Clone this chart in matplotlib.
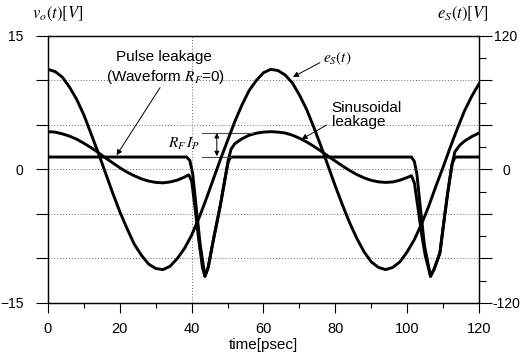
import matplotlib
matplotlib.use('Agg')
import matplotlib.pyplot as plt
import numpy as np

plt.rcParams['font.family'] = ['Liberation Sans', 'DejaVu Sans']
plt.rcParams['mathtext.fontset'] = 'stix'

# source voltage e_s(t) [V], right axis
t_es = np.arange(0, 121, 2)
es = [90, 88, 83, 74, 63, 49, 32, 15, -3, -21, -38, -53, -67, -77, -85, -89,
      -90, -87, -80, -71, -59, -44, -27, -9, 9, 26, 43, 58, 71, 80, 87, 90,
      89, 85, 78, 67, 54, 38, 21, 3, -15, -32, -48, -62, -74, -83, -88, -90,
      -88, -83, -74, -63, -49, -33, -15, 2, 20, 37, 53, 66, 77]

# output v_o(t) [V] with sinusoidal leakage
t_sin = [0, 2, 4, 6, 8, 10, 12, 14, 16, 18, 20, 22, 24, 26, 28, 30, 32, 34, 36,
         38, 39.2, 40.0, 41.0, 42.0, 43.0, 43.7, 44.6, 46.0, 48.0, 49.3, 50.2,
         51, 52, 54, 56, 58, 60, 62, 64, 66, 68, 70, 72, 74, 76, 78, 80, 82,
         84, 86, 88, 90, 92, 94, 96, 98, 100, 101.2, 102, 103, 104, 105,
         106.5, 107.5, 109.1, 110.5, 111.4, 112.5, 113.3, 114.7, 116, 118, 120]
v_sin = [4.25, 4.2, 4.0, 3.75, 3.4, 2.95, 2.45, 1.9, 1.3, 0.75, 0.2, -0.3,
         -0.7, -1.05, -1.3, -1.45, -1.5, -1.4, -1.2, -0.85, -0.6, -1.3, -4.5,
         -8.0, -11.0, -12.0, -11.0, -8.0, -4.0, -1.0, 1.1, 2.3, 2.9, 3.45,
         3.85, 4.08, 4.2, 4.25, 4.2, 4.1, 3.86, 3.52, 3.1, 2.6, 2.07, 1.5,
         0.94, 0.4, -0.12, -0.57, -0.94, -1.22, -1.39, -1.45, -1.4, -1.2,
         -0.9, -0.7, -1.5, -4.3, -7.2, -9.6, -12.0, -11.2, -9.4, -5.0, -2.3,
         0.6, 2.0, 2.75, 3.2, 3.7, 4.1]

# output v_o(t) [V] with pulse leakage only (R_F = 0)
t_pul = [0, 38.6, 39.5, 40.3, 41.2, 42.4, 43.7, 44.6, 46.0, 48.0, 49.3, 50.2,
         50.8, 51.5, 101.2, 102.0, 102.7, 103.6, 104.8, 106.5, 107.5, 109.1,
         110.5, 111.4, 112.5, 113.2, 113.8, 120]
v_pul = [1.4, 1.4, 1.0, -0.5, -4.0, -8.5, -12.0, -11.0, -8.0, -4.0, -1.0, 0.9,
         1.35, 1.4, 1.4, 0.9, -0.5, -4.0, -8.5, -12.0, -11.2, -9.4, -5.0,
         -2.3, 0.6, 1.3, 1.4, 1.4]

fig = plt.figure(figsize=(5.25, 3.61), dpi=100)
ax = fig.add_axes([0.0914, 0.1607, 0.821, 0.7396])
ax2 = ax.twinx()

grid_kw = dict(color='0.4', lw=0.7, ls=(0, (1, 2)), zorder=0)
for yv in [10, 5, 0, -5, -10]:
    ax.axhline(yv, **grid_kw)
ax.axvline(40, **grid_kw)

ax.plot(t_pul, v_pul, color='k', lw=2.1)
ax.plot(t_sin, v_sin, color='k', lw=2.1)
ax2.plot(t_es, es, color='k', lw=2.1)

ax.set_xlim(0, 120)
ax.set_ylim(-15, 15)
ax2.set_ylim(-120, 120)

ax.set_xticks(range(0, 121, 20))
ax.set_xticks(range(10, 120, 20), minor=True)
ax.set_yticks([-15, 0, 15])
ax.set_yticks([-10, -5, 5, 10], minor=True)
ax.tick_params(axis='x', which='major', direction='out', length=7, width=0.8,
               pad=7, labelsize=10.5)
ax.tick_params(axis='x', which='minor', direction='out', length=3.5, width=0.8)
ax.tick_params(axis='y', which='both', direction='out', length=8.5, width=0.8,
               pad=9, labelsize=10)

ax2.set_yticks(range(-120, 121, 40))
ax2.set_yticklabels(['-120', '', '', '0', '', '', '120'])
ax2.set_yticks(range(-100, 101, 40), minor=True)
ax2.tick_params(axis='y', which='major', direction='out', length=9.5,
                width=0.8, pad=10, labelsize=10)
ax2.tick_params(axis='y', which='minor', direction='out', length=5, width=0.8)
plt.setp(ax2.get_yticklabels(), ha='center')

for a in (ax, ax2):
    for sp in a.spines.values():
        sp.set_linewidth(0.9)

ax.set_xlabel('time[psec]', fontsize=11, labelpad=1)
fig.text(0.109, 0.961, r'$v_o(t)[V]$', fontsize=12, ha='center', va='center')
fig.text(0.882, 0.961, r'$e_S(t)[V]$', fontsize=12, ha='center', va='center')

arrow_kw = dict(arrowstyle='-|>', color='k', lw=0.7, mutation_scale=8,
                shrinkA=0, shrinkB=0)

ax.text(32.3, 12.6, 'Pulse leakage', fontsize=11, ha='center', va='center')
ax.text(32.8, 10.4, r'(Waveform $R_F$=0)', fontsize=11, ha='center',
        va='center')
ax.annotate('', xy=(19.1, 1.6), xytext=(31.2, 9.2), arrowprops=arrow_kw)

ax.text(80.4, 12.5, r'$e_S(t)$', fontsize=11, ha='center', va='center')
ax.annotate('', xy=(68.2, 10.4), xytext=(75.7, 12.0), arrowprops=arrow_kw)

ax.text(79.0, 6.1, 'Sinusoidal\nleakage', fontsize=11, ha='left',
        va='center', linespacing=1.0)
ax.annotate('', xy=(70.6, 3.4), xytext=(77.6, 5.0), arrowprops=arrow_kw)

# R_F * I_P offset marker
ax.plot([42.8, 57], [4.15, 4.15], color='0.3', lw=0.8)
ax.plot([42.8, 51], [1.4, 1.4], color='0.3', lw=0.8)
ax.annotate('', xy=(47.0, 4.1), xytext=(47.0, 1.5),
            arrowprops=dict(arrowstyle='<|-|>', color='k', lw=0.7,
                            mutation_scale=7, shrinkA=0, shrinkB=0))
ax.text(42.4, 2.9, r'$R_F\,I_P$', fontsize=11, ha='right', va='center')

fig.savefig('out.png', dpi=100)
